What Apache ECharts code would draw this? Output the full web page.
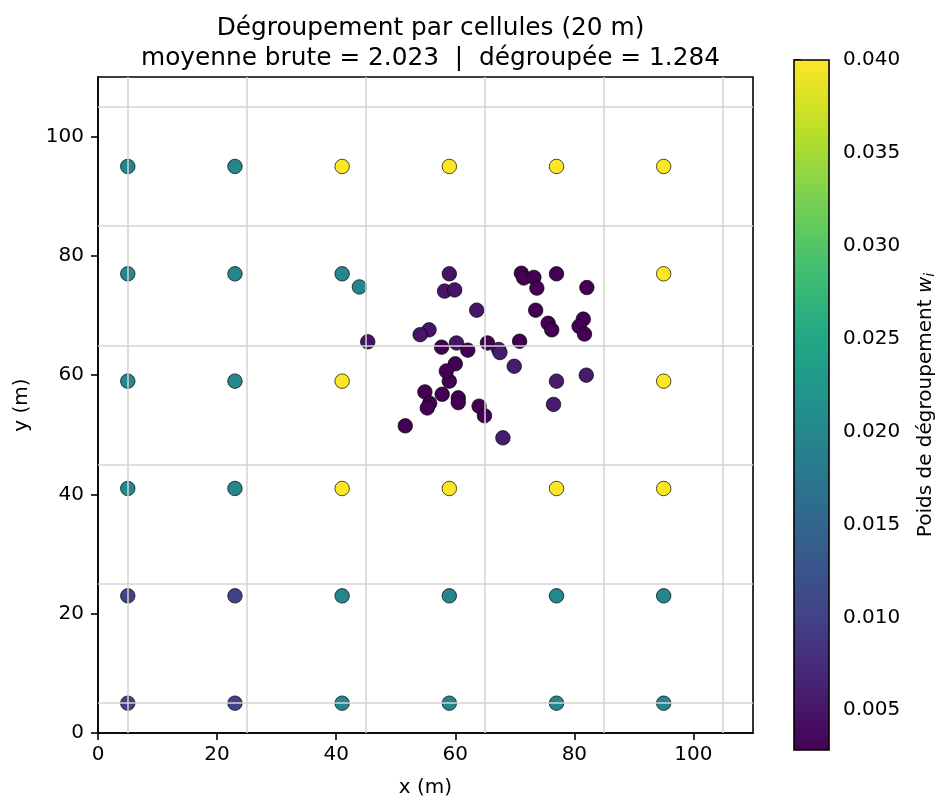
<!DOCTYPE html>
<html>
<head>
<meta charset="utf-8">
<script src="https://cdn.jsdelivr.net/npm/echarts@6/dist/echarts.min.js"></script>
<style>
  html, body { margin: 0; padding: 0; background: #fff; }
  #chart { width: 952px; height: 811px; }
</style>
</head>
<body>
<div id="chart"></div>
<script>
var ptX = [5, 23, 41, 59, 77, 95,
           5, 23, 41, 59, 77, 95,
           5, 23, 41, 59, 77, 95,
           5, 23, 41, 59, 77, 95,
           5, 23, 41, 59, 77, 95,
           5, 23, 41, 59, 77, 95,
           43.9,
           58.2, 59.9, 63.6, 55.6, 54.1, 45.3, 60.2,
           57.7, 62.1, 60.0, 58.5, 54.9, 57.8, 55.7, 55.3, 60.5, 60.5, 64.0, 64.9, 51.6,
           71.1, 71.5, 73.2, 82.1, 73.7, 73.5, 75.6, 76.2, 81.5, 80.8, 81.7, 70.8, 65.4,
           67.3, 67.5, 69.9, 82.0, 76.5, 68.0];
var ptY = [95, 95, 95, 95, 95, 95,
           77, 77, 77, 77, 77, 77,
           59, 59, 59, 59, 59, 59,
           41, 41, 41, 41, 41, 41,
           23, 23, 23, 23, 23, 23,
           5, 5, 5, 5, 5, 5,
           74.8,
           74.1, 74.3, 70.9, 67.6, 66.8, 65.6, 65.4,
           64.7, 64.2, 61.9, 60.7, 57.2, 56.8, 55.3, 54.5, 56.2, 55.4, 54.8, 53.2, 51.5,
           77.1, 76.3, 76.4, 74.7, 74.6, 70.9, 68.7, 67.6, 69.4, 68.2, 66.9, 65.7, 65.4,
           64.3, 63.8, 61.5, 60.0, 55.1, 49.5];
var ptW = [0.02, 0.02, 0.04, 0.04, 0.04, 0.04,
           0.02, 0.02, 0.02, 0.005, 0.00286, 0.04,
           0.02, 0.02, 0.04, 0.00286, 0.00571, 0.04,
           0.02, 0.02, 0.04, 0.04, 0.04, 0.04,
           0.01, 0.01, 0.02, 0.02, 0.02, 0.02,
           0.01, 0.01, 0.02, 0.02, 0.02, 0.02,
           0.02,
           0.005, 0.005, 0.005, 0.005, 0.005, 0.005, 0.005,
           0.00286, 0.00286, 0.00286, 0.00286, 0.00286, 0.00286, 0.00286, 0.00286, 0.00286, 0.00286, 0.00286, 0.00286, 0.00286,
           0.00286, 0.00286, 0.00286, 0.00286, 0.00286, 0.00286, 0.00286, 0.00286, 0.00286, 0.00286, 0.00286, 0.00286, 0.00286,
           0.00571, 0.00571, 0.00571, 0.00571, 0.00571, 0.00571];

var cellEdges = [5, 25, 45, 65, 85, 105];
var axisTicks = [0, 20, 40, 60, 80, 100];
var cbarTicks = [0.005, 0.010, 0.015, 0.020, 0.025, 0.030, 0.035, 0.040];
var wMin = 0.002857, wMax = 0.04;
var rawMean = '2.023', declusMean = '1.284';

var viridis = ['#440154', '#482475', '#414487', '#355f8d', '#2a788e', '#21918c',
               '#22a884', '#44bf70', '#7ad151', '#bddf26', '#fde725'];

var font = 'DejaVu Sans';
var fs = 20;
var points = ptX.map(function (x, i) { return [x, ptY[i], ptW[i]]; });

var chart = echarts.init(document.getElementById('chart'), null, { renderer: 'canvas' });

var edgeLines = [];
cellEdges.forEach(function (v) {
    edgeLines.push({ xAxis: v });
    edgeLines.push({ yAxis: v });
});

var gradStops = viridis.map(function (c, i) { return { offset: i / (viridis.length - 1), color: c }; });

chart.setOption({
    backgroundColor: '#fff',
    animation: false,
    title: {
        text: 'Dégroupement par cellules (20 m)\nmoyenne brute = ' + rawMean + '  |  dégroupée = ' + declusMean,
        left: 425.5,
        top: 9,
        textAlign: 'center',
        textStyle: { fontFamily: font, fontSize: 24.8, fontWeight: 'normal', color: '#000', lineHeight: 30 }
    },
    grid: [
        { left: 98, top: 77, width: 655, height: 656, show: true, borderColor: '#000', borderWidth: 1.6, backgroundColor: 'transparent' },
        { left: 794, top: 60, width: 35, height: 690, show: false }
    ],
    xAxis: [
        {
            type: 'value', gridIndex: 0, min: 0, max: 110,
            name: 'x (m)', nameLocation: 'middle', nameGap: 45,
            nameTextStyle: { fontFamily: font, fontSize: fs, color: '#000' },
            axisLine: { show: true, lineStyle: { color: '#000', width: 1.6 } },
            axisTick: { show: true, length: 7, lineStyle: { color: '#000', width: 1.6 }, customValues: axisTicks },
            axisLabel: { fontFamily: font, fontSize: fs, color: '#000', margin: 12, customValues: axisTicks },
            splitLine: { show: false }
        },
        { type: 'value', gridIndex: 1, min: 0, max: 1, show: false }
    ],
    yAxis: [
        {
            type: 'value', gridIndex: 0, min: 0, max: 110,
            name: 'y (m)', nameLocation: 'middle', nameGap: 66, nameRotate: 90,
            nameTextStyle: { fontFamily: font, fontSize: fs, color: '#000' },
            axisLine: { show: true, lineStyle: { color: '#000', width: 1.6 } },
            axisTick: { show: true, length: 7, lineStyle: { color: '#000', width: 1.6 }, customValues: axisTicks },
            axisLabel: { fontFamily: font, fontSize: fs, color: '#000', margin: 14, customValues: axisTicks },
            splitLine: { show: false }
        },
        {
            type: 'value', gridIndex: 1, min: wMin, max: wMax, position: 'right',
            name: '{t|Poids de dégroupement }{w|w}{i|i}', nameLocation: 'middle', nameGap: 86, nameRotate: 90,
            nameTextStyle: {
                fontFamily: font, fontSize: fs, color: '#000',
                rich: {
                    t: { fontFamily: font, fontSize: fs, color: '#000' },
                    w: { fontFamily: font, fontSize: fs, fontStyle: 'italic', color: '#000' },
                    i: { fontFamily: font, fontSize: 14, fontStyle: 'italic', color: '#000', padding: [8, 0, 0, 0] }
                }
            },
            axisLine: { show: false },
            axisTick: { show: true, length: 7, lineStyle: { color: '#000', width: 1.6 }, customValues: cbarTicks },
            axisLabel: {
                fontFamily: font, fontSize: fs, color: '#000', margin: 14, customValues: cbarTicks,
                formatter: function (v) { return v.toFixed(3); }
            },
            splitLine: { show: false }
        }
    ],
    visualMap: {
        type: 'continuous', show: false, seriesIndex: 1, dimension: 2,
        min: wMin, max: wMax, inRange: { color: viridis }
    },
    series: [
        {
            type: 'scatter', xAxisIndex: 0, yAxisIndex: 0, data: [], z: 1, silent: true,
            markLine: {
                symbol: ['none', 'none'], silent: true, animation: false,
                label: { show: false },
                lineStyle: { color: '#d3d3d3', width: 1.5, type: 'solid' },
                data: edgeLines
            }
        },
        {
            type: 'scatter', xAxisIndex: 0, yAxisIndex: 0, z: 3,
            symbol: 'circle', symbolSize: 14.5,
            itemStyle: { borderColor: '#000', borderWidth: 0.7, opacity: 1 },
            data: points
        },
        {
            type: 'custom', xAxisIndex: 1, yAxisIndex: 1, z: 3, silent: true,
            data: [[0, wMin, wMax]],
            renderItem: function (params, api) {
                var p0 = api.coord([0, api.value(2)]);
                var p1 = api.coord([1, api.value(1)]);
                return {
                    type: 'rect',
                    shape: { x: p0[0], y: p0[1], width: p1[0] - p0[0], height: p1[1] - p0[1] },
                    style: {
                        fill: new echarts.graphic.LinearGradient(0, 1, 0, 0, gradStops),
                        stroke: '#000', lineWidth: 1.6
                    }
                };
            }
        }
    ]
});
</script>
</body>
</html>
